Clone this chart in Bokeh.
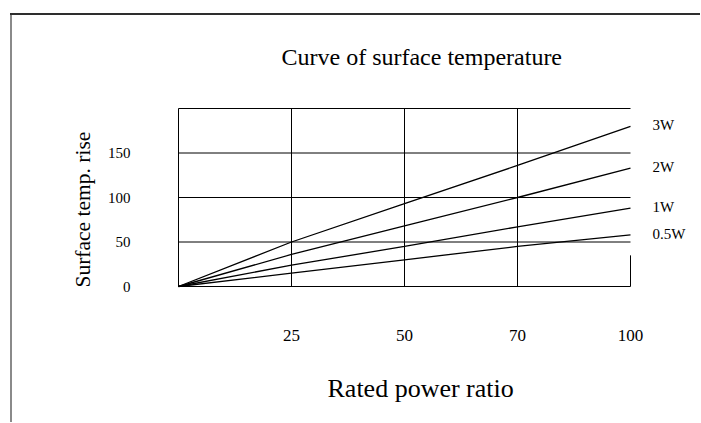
from bokeh.plotting import figure
from bokeh.models import FixedTicker, Title, Label
from bokeh.embed import file_html
from bokeh.resources import INLINE

# ---- data ----
x_labels = ["0", "25", "50", "70", "100"]          # rated power ratio (%), equally spaced columns
y_ticks = [0, 50, 100, 150]
y_grid = [0, 50, 100, 150, 200]
series_names = ["3W", "2W", "1W", "0.5W"]
s_3w = [0, 50, 93, 136, 180]
s_2w = [0, 36, 68, 100, 133]
s_1w = [0, 24, 45, 67, 88]
s_05w = [0, 15, 30, 45, 58]
right_border_top = 35

FONT = "Liberation Serif"
xi = list(range(len(x_labels)))
n = len(x_labels) - 1
ymax = y_grid[-1]

W, H = 700, 422
LEFT, TOP = 177, 107
FRAME_H = 180
BOTTOM = H - TOP - FRAME_H
px_per_x = 113.0
px_per_y = 0.89
xpad = 1 / px_per_x
ypad = 1 / px_per_y
x_end = -xpad + (W - LEFT) / px_per_x   # room on the right for the series labels

p = figure(width=W, height=H, output_backend="svg", toolbar_location=None,
           x_range=(-xpad, x_end), y_range=(-ypad, ymax + ypad),
           min_border_left=LEFT, min_border_right=0, min_border_top=TOP, min_border_bottom=BOTTOM)
# page frame (thin L-shaped border) drawn with CSS shadows behind a transparent canvas
p.styles = {"box-shadow": "inset 10px 13px 0 0 #ffffff, inset 0 15px 0 0 #2e2e2e, inset 12px 0 0 0 #8a8a8a",
            "background-color": "#ffffff"}
p.outline_line_color = None
p.background_fill_color = None
p.border_fill_color = None
p.xgrid.visible = False
p.ygrid.visible = False

# table-like grid
p.segment(x0=[0] * len(y_grid), x1=[n] * len(y_grid), y0=y_grid, y1=y_grid,
          line_color="black", line_width=1)
p.segment(x0=xi[:-1], x1=xi[:-1], y0=[0] * n, y1=[ymax] * n,
          line_color="black", line_width=1)
# right border fragment
p.segment(x0=[n], y0=[0], x1=[n], y1=[right_border_top], line_color="black", line_width=1)

# axes
p.xaxis.ticker = FixedTicker(ticks=xi[1:])
p.xaxis.major_label_overrides = {i: x_labels[i] for i in xi[1:]}
p.yaxis.ticker = FixedTicker(ticks=y_ticks)
for ax in (p.xaxis, p.yaxis):
    ax.axis_line_color = None
    ax.major_tick_line_color = None
    ax.minor_tick_line_color = None
    ax.major_label_text_font = FONT
    ax.major_label_text_color = "black"
p.xaxis.major_label_text_font_size = "17px"
p.xaxis.major_label_standoff = 36
p.yaxis.major_label_text_font_size = "15px"
p.yaxis.major_label_standoff = 41

# series
series = [s_3w, s_2w, s_1w, s_05w]
for vals in series:
    p.line(xi, vals, line_color="black", line_width=1.3)

for name, vals in zip(series_names, series):
    p.add_layout(Label(x=n, y=vals[-1], text=name, x_offset=22, y_offset=1, text_baseline="middle",
                       text_font=FONT, text_font_size="15px", text_color="black"))

# titles
t = Title(text="Curve of surface temperature", align="left", offset=104, standoff=76,
          text_font=FONT, text_font_size="24px", text_font_style="normal", text_color="black")
p.add_layout(t, "above")
xl = Title(text="Rated power ratio", align="left", offset=150, standoff=0, vertical_align="top",
           padding=(0, 0, 30, 0),
           text_font=FONT, text_font_size="26px", text_font_style="normal", text_color="black")
p.add_layout(xl, "below")
yl = Title(text="Surface temp. rise", align="left", offset=0, standoff=20,
           text_font=FONT, text_font_size="21.5px", text_font_style="normal", text_color="black")
p.add_layout(yl, "left")

open("out.html", "w").write(file_html(p, INLINE))
